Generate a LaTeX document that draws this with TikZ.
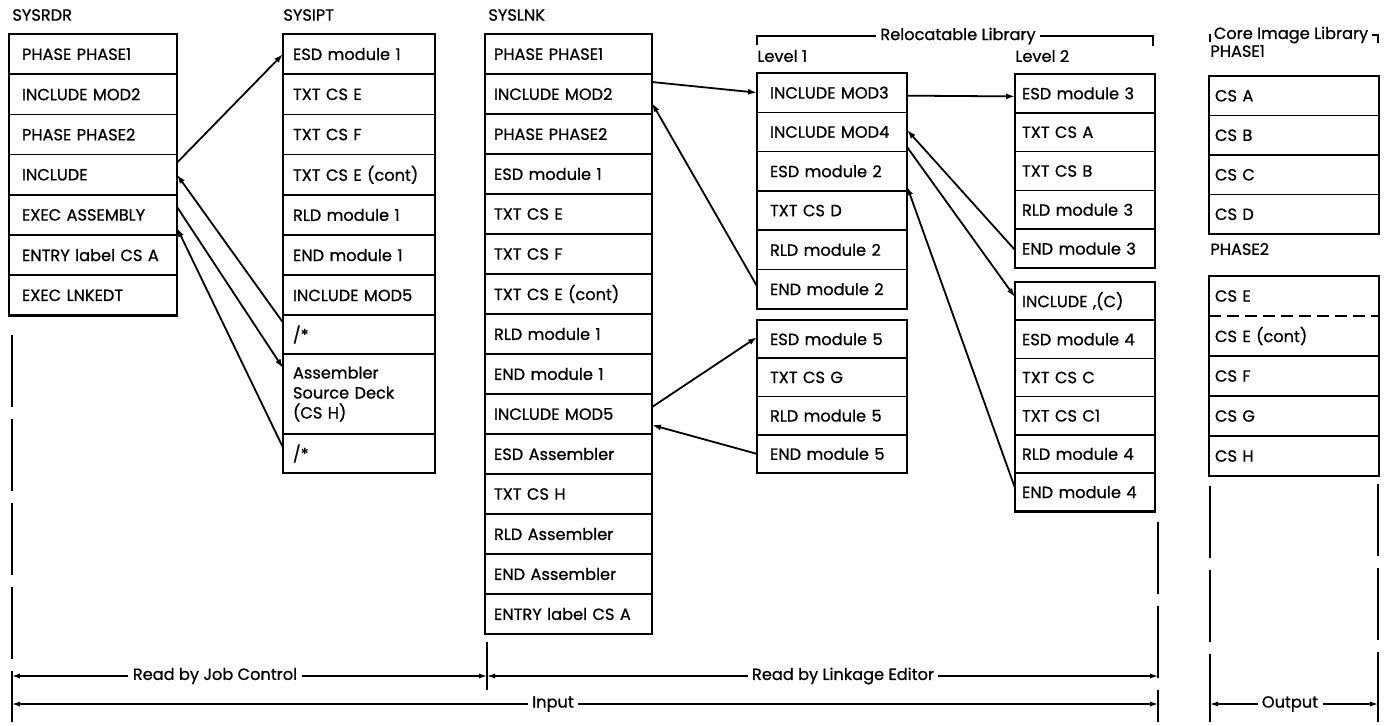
\documentclass[tikz,border=0pt]{standalone}
\usepackage{fontspec}
\setmainfont{Poppins}[FakeBold=0.8]
\usetikzlibrary{positioning, arrows.meta, calc}

\tikzset{
  row/.style={
    rectangle, draw, line width=0.8pt, anchor=north west,
    inner xsep=6pt, inner ysep=0pt, outer sep=0pt,
    text width=#1, align=left, font=\fontsize{8.1}{10}\selectfont
  },
  frame/.style={line width=1.3pt},
  head/.style={anchor=west, inner sep=0pt, font=\fontsize{8.1}{9}\selectfont},
  link/.style={-{Latex[length=4.5pt, width=3pt]}, line width=0.9pt},
  ext/.style={line width=0.75pt, dash pattern=on 36pt off 6pt},
  dimarrow/.style={-{Latex[length=4pt, width=2.6pt]}, line width=0.7pt},
  dimlabel/.style={inner xsep=2pt, inner ysep=1pt, font=\fontsize{8.1}{9}\selectfont},
  bracket/.style={line width=0.8pt},
}

\begin{document}
\begin{tikzpicture}[x=0.5pt, y=-0.5pt]
  \useasboundingbox (0,0) rectangle (1395,725);

  % headings
  \node[head] (rdrHead) at (12,15) {SYSRDR};
  \node[head] (iptHead) at (283,15) {SYSIPT};
  \node[head] (lnkHead) at (488,15) {SYSLNK};
  \node[head] (lv1Head) at (757,56) {Level 1};
  \node[head] (lv2Head) at (1015,56) {Level 2};
  \node[head] (ph1Head) at (1210,51) {PHASE1};
  \node[head] (ph2Head) at (1210,249) {PHASE2};

  % SYSRDR
  \foreach \txt [count=\i] in {PHASE PHASE1, INCLUDE MOD2, PHASE PHASE2, INCLUDE,
      EXEC ASSEMBLY, ENTRY label CS A, EXEC LNKEDT}
    \node[row=71pt, inner xsep=6.5pt, minimum height=20.1pt] (rdr\i) at (9,{34+(\i-1)*40.2}) {\txt};
  \draw[frame] (rdr1.north west) rectangle (rdr7.south east);

  % SYSIPT
  \foreach \txt [count=\i] in {ESD module 1, TXT CS E, TXT CS F, TXT CS E (cont),
      RLD module 1, END module 1, INCLUDE MOD5}
    \node[row=66pt, inner xsep=5pt, minimum height=20.1pt] (ipt\i) at (283,{34+(\i-1)*40.2}) {\txt};
  \node[row=66pt, inner xsep=5pt, minimum height=19.5pt] (ipt8) at (283,315) {/*};
  \node[row=66pt, inner xsep=5pt, minimum height=40pt] (ipt9) at (283,354) {Assembler\\Source Deck\\(CS H)};
  \node[row=66pt, inner xsep=5pt, minimum height=19.5pt] (ipt10) at (283,434) {/*};
  \draw[frame] (ipt1.north west) rectangle (ipt10.south east);

  % SYSLNK
  \foreach \txt [count=\i] in {PHASE PHASE1, INCLUDE MOD2, PHASE PHASE2, ESD module 1,
      TXT CS E, TXT CS F, TXT CS E (cont), RLD module 1, END module 1, INCLUDE MOD5,
      ESD Assembler, TXT CS H, RLD Assembler, END Assembler, ENTRY label CS A}
    \node[row=74.5pt, inner xsep=4.5pt, minimum height=20pt] (lnk\i) at (485,{34+(\i-1)*40}) {\txt};
  \draw[frame] (lnk1.north west) rectangle (lnk15.south east);

  % Relocatable Library, level 1
  \foreach \txt [count=\i] in {INCLUDE MOD3, INCLUDE MOD4, ESD module 2, TXT CS D,
      RLD module 2, END module 2}
    \node[row=62pt, inner xsep=6.5pt, minimum height=19.65pt] (lvA\i) at (757,{73+(\i-1)*39.3}) {\txt};
  \draw[frame] (lvA1.north west) rectangle (lvA6.south east);
  \foreach \txt [count=\i] in {ESD module 5, TXT CS G, RLD module 5, END module 5}
    \node[row=62pt, inner xsep=6.5pt, minimum height=19.125pt] (lvB\i) at (757,{320+(\i-1)*38.25}) {\txt};
  \draw[frame] (lvB1.north west) rectangle (lvB4.south east);

  % Relocatable Library, level 2
  \foreach \txt [count=\i] in {ESD module 3, TXT CS A, TXT CS B, RLD module 3, END module 3}
    \node[row=63pt, inner xsep=3.5pt, minimum height=19.4pt] (lwA\i) at (1015,{74+(\i-1)*38.8}) {\txt};
  \draw[frame] (lwA1.north west) rectangle (lwA5.south east);
  \foreach \txt [count=\i] in {{INCLUDE ,(C)}, ESD module 4, TXT CS C, TXT CS C1,
      RLD module 4, END module 4}
    \node[row=63pt, inner xsep=3.5pt, minimum height=19.1pt] (lwB\i) at (1015,{282+(\i-1)*38.2}) {\txt};
  \draw[frame] (lwB1.north west) rectangle (lwB6.south east);

  % Core Image Library
  \foreach \txt [count=\i] in {CS A, CS B, CS C, CS D}
    \node[row=79pt, inner xsep=3pt, minimum height=19.75pt] (ciA\i) at (1209,{76+(\i-1)*39.5}) {\txt};
  \draw[frame] (ciA1.north west) rectangle (ciA4.south east);
  \node[row=79pt, inner xsep=3pt, minimum height=20pt, draw=none] (ciB1) at (1209,276) {CS E};
  \node[row=79pt, inner xsep=3pt, minimum height=20pt, draw=none] (ciB2) at (1209,316) {CS E (cont)};
  \foreach \txt [count=\i from 3] in {CS F, CS G, CS H}
    \node[row=79pt, inner xsep=3pt, minimum height=20pt] (ciB\i) at (1209,{276+(\i-1)*40}) {\txt};
  \draw[line width=0.8pt, dash pattern=on 6pt off 3pt] (ciB2.north west) -- (ciB2.north east);
  \draw[frame] (ciB1.north west) rectangle (ciB5.south east);

  % library brackets
  \node[dimlabel] (relLbl) at (958,36) {Relocatable Library};
  \coordinate (relL) at (757,45);
  \coordinate (relR) at (1153,46);
  \draw[bracket] (relLbl.west) -| (relL);
  \draw[bracket] (relLbl.east) -| (relR);
  \node[dimlabel, inner xsep=1.5pt] (coreLbl) at (1291,35) {Core Image Library};
  \coordinate (coreL) at (1210,42);
  \coordinate (coreR) at (1378,43);
  \draw[bracket] (coreLbl.west) -| (coreL);
  \draw[bracket] (coreLbl.east) -| (coreR);

  % SYSRDR <-> SYSIPT
  \draw[link] ([yshift=6pt]rdr4.east) -- (ipt1.west);
  \draw[link] ([yshift=6pt]ipt8.west) -- (rdr4.east);
  \draw[link] ([yshift=4pt]rdr5.east) -- ([yshift=13pt]ipt9.west);
  \draw[link] ([yshift=3pt]ipt10.west) -- ([yshift=-6.5pt]rdr5.east);

  % SYSLNK <-> level 1
  \draw[link] ([yshift=6pt]lnk2.east) -- (lvA1.west);
  \draw[link] ([yshift=1.5pt]lvA6.west) -- ([yshift=-4.5pt]lnk2.east);
  \draw[link] ([yshift=3.5pt]lnk10.east) -- ([yshift=1pt]lvB1.west);
  \draw[link] (lvB4.west) -- ([yshift=-5.5pt]lnk10.east);

  % level 1 <-> level 2
  \draw[link] ([yshift=-1.5pt]lvA1.east) -- ([yshift=-1.5pt]lwA1.west);
  \draw[link] ([yshift=-0.7pt]lwA5.west) -- ([yshift=1pt]lvA2.east);
  \draw[link] ([yshift=-7.5pt]lvA2.east) -- ([yshift=2pt]lwB1.west);
  \draw[link] ([yshift=2pt]lwB6.west) -- ([yshift=-7.5pt]lvA3.east);

  % extension lines
  \coordinate (xA1) at (12,335);   \coordinate (xA2) at (12,722);
  \coordinate (xB1) at (487,642);  \coordinate (xB2) at (487,690);
  \coordinate (xC1) at (1158,522); \coordinate (xC2) at (1158,722);
  \coordinate (xD1) at (1210,486); \coordinate (xD2) at (1210,722);
  \coordinate (xE1) at (1378,484); \coordinate (xE2) at (1378,722);
  \draw[ext] (xA1) -- (xA2);
  \draw[line width=0.75pt] (xB1) -- (xB2);
  \draw[ext] (xC1) -- (xC2);
  \draw[ext] (xD1) -- (xD2);
  \draw[ext] (xE1) -- (xE2);

  % dimension arrows
  \coordinate (jobL) at (12,676);  \coordinate (jobR) at (487,676);
  \coordinate (lnkL) at (487,676); \coordinate (lnkR) at (1158,676);
  \coordinate (inL) at (12,704);   \coordinate (inR) at (1158,704);
  \coordinate (outL) at (1210,704); \coordinate (outR) at (1378,704);

  \node[dimlabel] (jobLbl) at (215,676) {Read by Job Control};
  \node[dimlabel] (lnkLbl) at (843,676) {Read by Linkage Editor};
  \node[dimlabel] (inLbl) at (553,704) {Input};
  \node[dimlabel] (outLbl) at (1290,704) {Output};

  \draw[dimarrow] (jobLbl.west) -- (jobL);
  \draw[dimarrow] (jobLbl.east) -- (jobR);
  \draw[dimarrow] (lnkLbl.west) -- (lnkL);
  \draw[dimarrow] (lnkLbl.east) -- (lnkR);
  \draw[dimarrow] (inLbl.west) -- (inL);
  \draw[dimarrow] (inLbl.east) -- (inR);
  \draw[dimarrow] (outLbl.west) -- (outL);
  \draw[dimarrow] (outLbl.east) -- (outR);
\end{tikzpicture}
\end{document}
